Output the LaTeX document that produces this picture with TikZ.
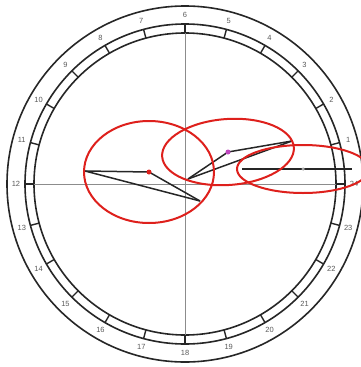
\documentclass[tikz,border=0pt]{standalone}
\usepackage{fontspec}
\setmainfont{Liberation Sans}
\usetikzlibrary{calc}
\definecolor{orbitred}{RGB}{222,32,28}
\definecolor{dotpurple}{RGB}{190,70,190}
\begin{document}
\begin{tikzpicture}[x=1pt,y=-1pt,
  ring/.style={draw=black!85,line width=1.6pt},
  axis/.style={draw=black!45,line width=1pt},
  orbit/.style={draw=orbitred,line width=2pt},
  trackline/.style={draw=black!85,line width=1.5pt},
  dotmark/.style={circle,inner sep=0pt,minimum size=5pt},
  hourlabel/.style={font=\fontsize{7.5}{7.5}\selectfont,text=black!65,inner sep=0pt},
  ticks/.style={draw=black!85,line width=1.4pt}]
\useasboundingbox (0,0) rectangle (360,367);
\coordinate (O) at (185,184);
% rings
\draw[ring] (O) circle[radius=178];
\draw[ring] (O) circle[radius=160];
\draw[ring] (O) circle[radius=151];
% axes
\draw[axis] ($(O)+(-155,0)$) -- ($(O)+(155,0)$);
\draw[axis] ($(O)+(0,-158)$) -- ($(O)+(0,158)$);
% ticks and labels
\foreach \h in {1,...,24}{
  \pgfmathsetmacro{\a}{15*\h}
  \draw[ticks] ($(O)+({151*cos(\a)},{-151*sin(\a)})$) -- ($(O)+({160*cos(\a)},{-160*sin(\a)})$);
  \node[hourlabel] (h\h) at ($(O)+({169*cos(\a)},{-169*sin(\a)})$) {\h};
}
% key points
\coordinate (tl) at (85,171);
\coordinate (tb) at (200,201);
\coordinate (rc) at (149,172);
\coordinate (s0) at (188,179);
\coordinate (s1) at (292,141);
\coordinate (pc) at (228,152);
\coordinate (r0) at (242,169);
\coordinate (r1) at (352,169);
\coordinate (gc) at (303,169);
% tracks
\draw[trackline] (tl) -- (rc) -- (tb);
\draw[trackline] (tl) -- (tb);
\draw[trackline] (s0) -- (pc) -- (s1);
\draw[trackline] (s0) -- (s1);
\draw[trackline] (r0) -- (gc) -- (r1);
% orbits
\draw[orbit] (rc) ellipse[x radius=65,y radius=51];
\draw[orbit,rotate around={4:(pc)}] (pc) ellipse[x radius=66,y radius=33];
\draw[orbit] (gc) ellipse[x radius=66,y radius=24];
% centre marks
\node[dotmark,fill=orbitred] (rd) at (rc) {};
\node[dotmark,fill=dotpurple] (pd) at (pc) {};
\node[dotmark,fill=black!35,minimum size=3.5pt] (gd) at (gc) {};
\end{tikzpicture}
\end{document}
